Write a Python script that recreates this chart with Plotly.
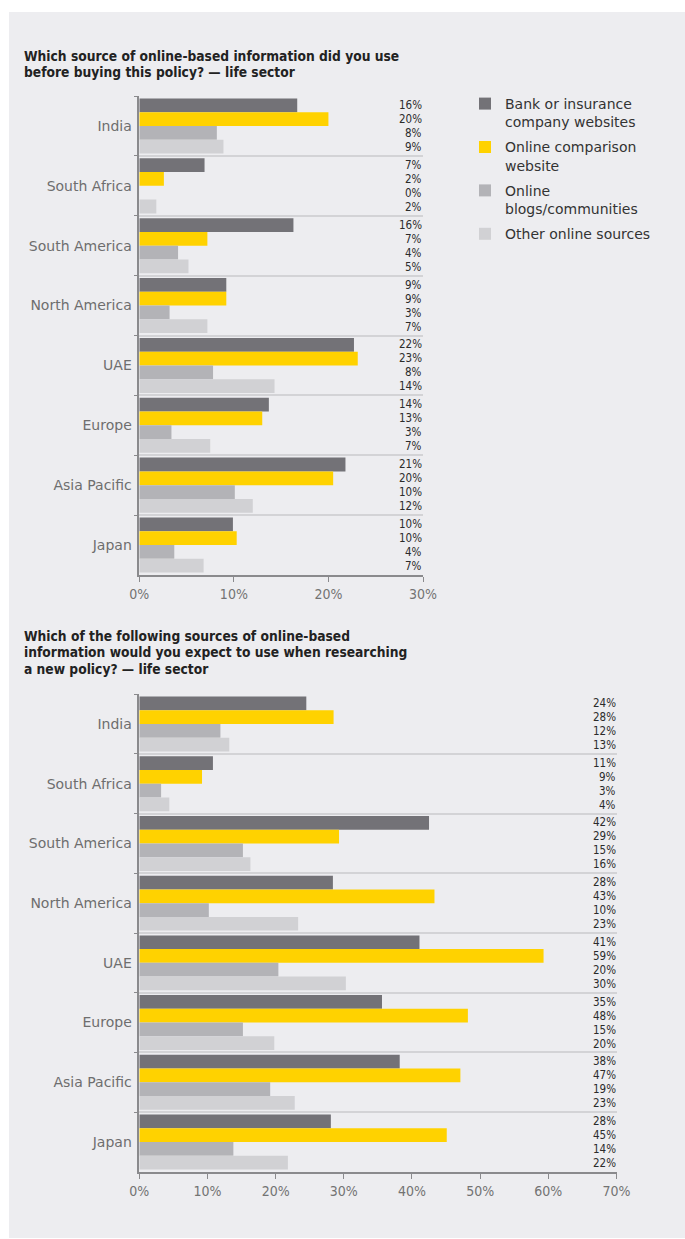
import plotly.graph_objects as go

W, H = 685, 1239

regions = ["India", "South Africa", "South America", "North America",
           "UAE", "Europe", "Asia Pacific", "Japan"]
legend_names = ["Bank or insurance<br>company websites",
                "Online comparison<br>website",
                "Online<br>blogs/communities",
                "Other online sources"]
colors = ["#737277", "#FFD200", "#B3B3B7", "#D1D1D4"]

# Chart 1: used before buying (bar lengths)
used_bank = [16.7, 6.9, 16.3, 9.2, 22.7, 13.7, 21.8, 9.9]
used_comparison = [20.0, 2.6, 7.2, 9.2, 23.1, 13.0, 20.5, 10.3]
used_blogs = [8.2, 0.0, 4.1, 3.2, 7.8, 3.4, 10.1, 3.7]
used_other = [8.9, 1.8, 5.2, 7.2, 14.3, 7.5, 12.0, 6.8]
# printed labels
used_bank_lbl = [16, 7, 16, 9, 22, 14, 21, 10]
used_comparison_lbl = [20, 2, 7, 9, 23, 13, 20, 10]
used_blogs_lbl = [8, 0, 4, 3, 8, 3, 10, 4]
used_other_lbl = [9, 2, 5, 7, 14, 7, 12, 7]

# Chart 2: expected to use
exp_bank = [24.5, 10.8, 42.5, 28.4, 41.1, 35.6, 38.2, 28.1]
exp_comparison = [28.5, 9.2, 29.3, 43.3, 59.3, 48.2, 47.1, 45.1]
exp_blogs = [11.9, 3.2, 15.2, 10.2, 20.4, 15.2, 19.2, 13.8]
exp_other = [13.2, 4.4, 16.3, 23.3, 30.3, 19.8, 22.8, 21.8]
exp_bank_lbl = [24, 11, 42, 28, 41, 35, 38, 28]
exp_comparison_lbl = [28, 9, 29, 43, 59, 48, 47, 45]
exp_blogs_lbl = [12, 3, 15, 10, 20, 15, 19, 14]
exp_other_lbl = [13, 4, 16, 23, 30, 20, 23, 22]

title1 = ["Which source of online-based information did you use",
          "before buying this policy? \u2014 life sector"]
title2 = ["Which of the following sources of online-based",
          "information would you expect to use when researching",
          "a new policy? \u2014 life sector"]

x1_ticks = [0, 10, 20, 30]
x2_ticks = [0, 10, 20, 30, 40, 50, 60, 70]

AXIS_COL = "#8A8A8D"
GRID_COL = "#D3D3D6"
BODY = "DejaVu Sans"
COND = "DejaVu Sans Condensed"


def px_x(p):
    return p / W


def px_y(p):
    return 1 - p / H


fig = go.Figure()

chart1 = [used_bank, used_comparison, used_blogs, used_other]
chart2 = [exp_bank, exp_comparison, exp_blogs, exp_other]
for i, vals in enumerate(chart1):
    fig.add_trace(go.Bar(y=regions, x=vals, orientation="h", name=legend_names[i],
                         marker=dict(color=colors[i], line=dict(width=0)),
                         xaxis="x", yaxis="y", showlegend=True,
                         legendgroup=f"g{i}", hoverinfo="skip"))
for i, vals in enumerate(chart2):
    fig.add_trace(go.Bar(y=regions, x=vals, orientation="h", name=legend_names[i],
                         marker=dict(color=colors[i], line=dict(width=0)),
                         xaxis="x2", yaxis="y2", showlegend=False,
                         legendgroup=f"g{i}", hoverinfo="skip"))

annotations = []
shifts = [21, 7, -7, -21]
labels1 = [used_bank_lbl, used_comparison_lbl, used_blogs_lbl, used_other_lbl]
labels2 = [exp_bank_lbl, exp_comparison_lbl, exp_blogs_lbl, exp_other_lbl]
for labels, xr, yr, xmax in [(labels1, "x", "y", 30), (labels2, "x2", "y2", 70)]:
    for s, lbls in enumerate(labels):
        for r, v in zip(regions, lbls):
            annotations.append(dict(x=xmax, y=r, xref=xr, yref=yr, text=f"{v}%",
                                    showarrow=False, xanchor="right", yanchor="middle",
                                    yshift=shifts[s], xshift=1,
                                    font=dict(family=COND, size=11.5, color="#2B2B2B")))

for lines, centers in [(title1, [55.5, 71.5]), (title2, [635.5, 652, 668.5])]:
    for t, c in zip(lines, centers):
        annotations.append(dict(x=px_x(22), y=px_y(c), xref="paper", yref="paper",
                                text=f"<b>{t}</b>", showarrow=False,
                                xanchor="left", yanchor="middle",
                                font=dict(family=COND, size=13.7, color="#222222")))

common_x = dict(showgrid=False, zeroline=False, showline=True, linecolor=AXIS_COL,
                linewidth=1.5, ticks="outside", ticklen=5, tickwidth=1.2,
                tickcolor=AXIS_COL, automargin=False,
                tickfont=dict(family=COND, size=14, color="#737373"))
common_y = dict(showgrid=True, gridcolor=GRID_COL, gridwidth=1.5, zeroline=False,
                showline=True, linecolor=AXIS_COL, linewidth=1.5, ticks="outside",
                ticklen=4, tickwidth=1.2, tickcolor=AXIS_COL, tickson="boundaries",
                autorange="reversed", automargin=False, ticklabelstandoff=3,
                tickfont=dict(family=BODY, size=14, color="#6E6E6E"))

fig.update_layout(
    width=W, height=H,
    margin=dict(l=0, r=0, t=0, b=0),
    paper_bgcolor="white", plot_bgcolor="rgba(0,0,0,0)",
    barmode="group", bargap=0.08, bargroupgap=0,
    xaxis=dict(domain=[px_x(139.3), px_x(423)], range=[0, 30], anchor="y",
               tickvals=x1_ticks, ticktext=[f"{v}%" for v in x1_ticks], **common_x),
    yaxis=dict(domain=[px_y(575), px_y(96)], anchor="x", **common_y),
    xaxis2=dict(domain=[px_x(139.3), px_x(616.5)], range=[0, 70], anchor="y2",
                tickvals=x2_ticks, ticktext=[f"{v}%" for v in x2_ticks], **common_x),
    yaxis2=dict(domain=[px_y(1172), px_y(694)], anchor="x2", **common_y),
    legend=dict(x=px_x(465), y=px_y(88), xanchor="left", yanchor="top",
                bgcolor="rgba(0,0,0,0)", borderwidth=0, traceorder="grouped",
                tracegroupgap=4, valign="top",
                font=dict(family=BODY, size=14, color="#333333")),
    annotations=annotations,
    shapes=[dict(type="rect", xref="paper", yref="paper",
                 x0=px_x(9), x1=1, y0=px_y(1238), y1=px_y(12),
                 fillcolor="#EDEDF0", line=dict(width=0), layer="below")],
)

fig.write_html("out.html")
